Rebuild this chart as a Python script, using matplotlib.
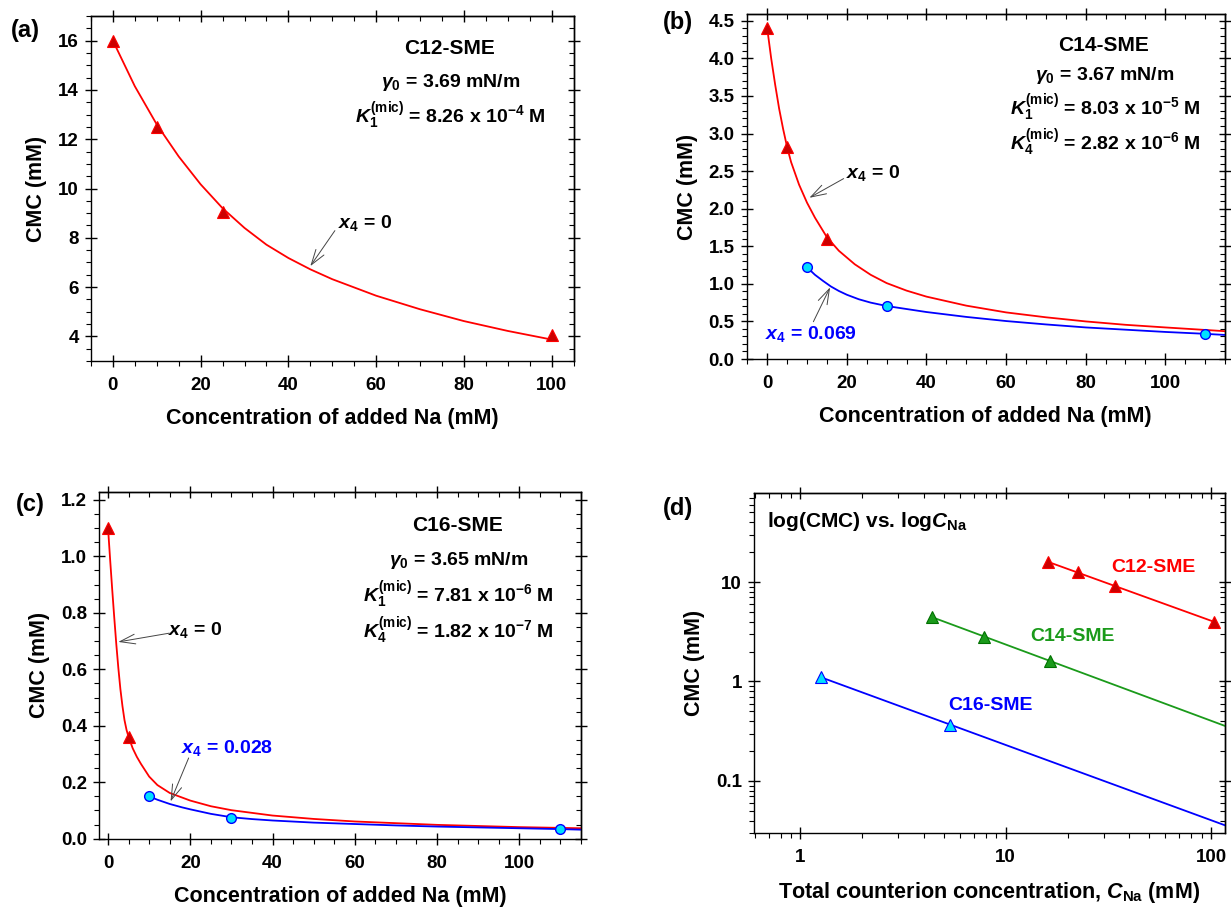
import numpy as np
import matplotlib
matplotlib.use('Agg')
import matplotlib.pyplot as plt
from matplotlib.ticker import MultipleLocator, LogLocator, NullFormatter, FixedLocator

plt.rcParams.update({
    'font.family': ['Liberation Sans', 'DejaVu Sans'],
    'font.weight': 'bold', 'axes.labelweight': 'bold',
    'mathtext.fontset': 'custom',
    'mathtext.rm': 'Liberation Sans:bold',
    'mathtext.it': 'Liberation Sans:italic:bold',
    'mathtext.bf': 'Liberation Sans:bold',
    'axes.linewidth': 1.0,
})

RED, DRED, BLUE, CYAN = '#ff0000', '#cc0000', '#0000ff', '#00e0ff'
GREEN, DGREEN = '#1a9a1a', '#007000'

# ---- (a) C12-SME ----
a_x = [0, 10, 25, 100]
a_y = [16.0, 12.5, 9.05, 4.05]
a_fit_x = [0, 5, 10, 15, 20, 25, 30, 35, 40, 45, 50, 60, 70, 80, 90, 100]
a_fit_y = [16.0, 14.15, 12.6, 11.3, 10.17, 9.2, 8.4, 7.72, 7.18, 6.72, 6.32, 5.65, 5.1, 4.62, 4.22, 3.87]

# ---- (b) C14-SME ----
b_red_x = [0, 5, 15]
b_red_y = [4.4, 2.82, 1.6]
b_red_fit_x = [0, 1, 2, 3, 4, 5, 6, 8, 10, 12, 15, 18, 22, 26, 30, 35, 40, 50, 60, 70, 80, 90, 100, 115]
b_red_fit_y = [4.4, 4.0, 3.65, 3.33, 3.06, 2.82, 2.62, 2.32, 2.08, 1.88, 1.62, 1.44, 1.26, 1.12, 1.01,
               0.91, 0.83, 0.71, 0.62, 0.555, 0.50, 0.455, 0.42, 0.37]
b_blue_x = [10, 30, 110]
b_blue_y = [1.23, 0.705, 0.33]
b_blue_fit_x = [10, 12, 14, 16, 18, 20, 23, 26, 30, 35, 40, 50, 60, 70, 80, 90, 100, 110, 115]
b_blue_fit_y = [1.22, 1.12, 1.04, 0.965, 0.905, 0.855, 0.795, 0.75, 0.705, 0.665, 0.625, 0.56,
                0.505, 0.46, 0.42, 0.39, 0.36, 0.335, 0.32]

# ---- (c) C16-SME ----
c_red_x = [0, 5]
c_red_y = [1.1, 0.36]
c_red_fit_x = [0, 0.5, 1, 1.5, 2, 2.5, 3, 3.5, 4, 4.5, 5, 6, 7, 8, 10, 12, 15, 20, 25, 30, 40, 50,
               60, 70, 80, 90, 100, 115]
c_red_fit_y = [1.10, 0.99, 0.885, 0.785, 0.69, 0.605, 0.53, 0.47, 0.42, 0.385, 0.36, 0.32, 0.29,
               0.265, 0.22, 0.19, 0.162, 0.135, 0.115, 0.101, 0.082, 0.07, 0.061, 0.055, 0.049,
               0.045, 0.041, 0.037]
c_blue_x = [10, 30, 110]
c_blue_y = [0.152, 0.0745, 0.035]
c_blue_fit_x = [10, 12, 15, 18, 20, 25, 30, 35, 40, 50, 60, 70, 80, 90, 100, 110, 115]
c_blue_fit_y = [0.150, 0.138, 0.123, 0.111, 0.104, 0.088, 0.076, 0.0695, 0.0645, 0.057, 0.052,
                0.047, 0.043, 0.040, 0.037, 0.034, 0.032]

# ---- (d) log-log ----
d12_x = [16.0, 22.4, 34.0, 103.5]
d12_y = [16.0, 12.5, 9.1, 3.98]
d12_fit_x = [16.0, 103.5]
d12_fit_y = [16.0, 3.98]
d14_x = [4.38, 7.83, 16.45]
d14_y = [4.43, 2.83, 1.61]
d14_fit_x = [4.38, 119]
d14_fit_y = [4.43, 0.353]
d16_x = [1.255, 5.38]
d16_y = [1.105, 0.364]
d16_fit_x = [1.255, 119]
d16_fit_y = [1.105, 0.0354]

fig = plt.figure(figsize=(12.31, 9.11), dpi=100)
W, H = 1231, 911
def add_ax(L, R, T, B):
    return fig.add_axes([L / W, 1 - B / H, (R - L) / W, (B - T) / H])

ax_a = add_ax(90.5, 574, 16, 361)
ax_b = add_ax(746.5, 1225, 14, 359)
ax_c = add_ax(99, 581, 492, 838.7)
ax_d = add_ax(753.7, 1225, 492.7, 833.3)

def style(ax, xloc=None, yloc=None):
    ax.tick_params(which='major', direction='inout', length=9, width=1.0, labelsize=13.5)
    ax.tick_params(axis='x', which='major', pad=7)
    ax.tick_params(axis='y', which='major', pad=4)
    ax.tick_params(which='minor', direction='out', length=3.5, width=0.8)
    if xloc:
        ax.xaxis.set_major_locator(MultipleLocator(xloc[0]))
        ax.xaxis.set_minor_locator(MultipleLocator(xloc[1]))
    if yloc:
        ax.yaxis.set_major_locator(MultipleLocator(yloc[0]))
        ax.yaxis.set_minor_locator(MultipleLocator(yloc[1]))
    sx = ax.secondary_xaxis('top')
    sy = ax.secondary_yaxis('right')
    for s, axis, src in [(sx, sx.xaxis, ax.xaxis), (sy, sy.yaxis, ax.yaxis)]:
        axis.set_major_locator(src.get_major_locator())
        axis.set_minor_locator(src.get_minor_locator())
        axis.set_major_formatter(NullFormatter())
        axis.set_minor_formatter(NullFormatter())
        s.tick_params(which='major', direction='inout', length=9, width=1.0)
        s.tick_params(which='minor', direction='in', length=3.5, width=0.8)

def arrow(ax, tip, start, color='#444444'):
    ax.annotate('', xy=tip, xytext=start,
                arrowprops=dict(arrowstyle='->,head_length=1.1,head_width=0.35', color=color,
                                lw=0.7, shrinkA=0, shrinkB=0))

XL = 'Concentration of added Na (mM)'
YL = 'CMC (mM)'
LFS = 15.5

# (a)
ax = ax_a
ax.plot(a_fit_x, a_fit_y, color=RED, lw=1.3)
ax.plot(a_x, a_y, '^', ms=8, mfc=DRED, mec=RED, mew=0.8)
ax.set_xlim(-5.1, 105.1); ax.set_ylim(3, 17)
style(ax, (20, 5), (2, 0.5))
ax.set_xlabel(XL, fontsize=LFS, labelpad=10)
ax.set_ylabel(YL, fontsize=LFS, labelpad=8)
ax.text(0.743, 0.905, 'C12-SME', transform=ax.transAxes, ha='center', va='center', fontsize=15)
ax.text(0.745, 0.806, r'$\gamma_0$ = 3.69 mN/m', transform=ax.transAxes, ha='center', va='center', fontsize=14)
ax.text(0.744, 0.708, r'$\mathit{K}_1^{\mathrm{(mic)}}$ = 8.26 x 10$^{-4}$ M', transform=ax.transAxes,
        ha='center', va='center', fontsize=14)
ax.text(57.5, 8.6, r'$\mathit{x}_4$ = 0', ha='center', va='center', fontsize=14)
arrow(ax, (45.0, 6.85), (50.6, 8.29))

# (b)
ax = ax_b
ax.plot(b_red_fit_x, b_red_fit_y, color=RED, lw=1.3)
ax.plot(b_blue_fit_x, b_blue_fit_y, color=BLUE, lw=1.3)
ax.plot(b_red_x, b_red_y, '^', ms=8, mfc=DRED, mec=RED, mew=0.8)
ax.plot(b_blue_x, b_blue_y, 'o', ms=7, mfc=CYAN, mec=BLUE, mew=1.0)
ax.set_xlim(-5.2, 115); ax.set_ylim(0, 4.59)
style(ax, (20, 5), (0.5, 0.1))
ax.yaxis.set_major_formatter(plt.FuncFormatter(lambda v, p: f'{v:.1f}'))
ax.set_xlabel(XL, fontsize=LFS, labelpad=10)
ax.set_ylabel(YL, fontsize=LFS, labelpad=8)
ax.text(0.747, 0.910, 'C14-SME', transform=ax.transAxes, ha='center', va='center', fontsize=15)
ax.text(0.749, 0.823, r'$\gamma_0$ = 3.67 mN/m', transform=ax.transAxes, ha='center', va='center', fontsize=14)
ax.text(0.749, 0.727, r'$\mathit{K}_1^{\mathrm{(mic)}}$ = 8.03 x 10$^{-5}$ M', transform=ax.transAxes,
        ha='center', va='center', fontsize=14)
ax.text(0.749, 0.625, r'$\mathit{K}_4^{\mathrm{(mic)}}$ = 2.82 x 10$^{-6}$ M', transform=ax.transAxes,
        ha='center', va='center', fontsize=14)
ax.text(26.5, 2.48, r'$\mathit{x}_4$ = 0', ha='center', va='center', fontsize=14)
arrow(ax, (10.6, 2.145), (19.2, 2.40))
ax.text(11.1, 0.33, r'$\mathit{x}_4$ = 0.069', ha='center', va='center', fontsize=14, color=BLUE)
arrow(ax, (15.8, 0.953), (11.6, 0.496))

# (c)
ax = ax_c
ax.plot(c_red_fit_x, c_red_fit_y, color=RED, lw=1.3)
ax.plot(c_blue_fit_x, c_blue_fit_y, color=BLUE, lw=1.3)
ax.plot(c_red_x, c_red_y, '^', ms=8, mfc=DRED, mec=RED, mew=0.8)
ax.plot(c_blue_x, c_blue_y, 'o', ms=7, mfc=CYAN, mec=BLUE, mew=1.0)
ax.set_xlim(-2.2, 115); ax.set_ylim(0, 1.228)
style(ax, (20, 5), (0.2, 0.05))
ax.yaxis.set_major_formatter(plt.FuncFormatter(lambda v, p: f'{v:.1f}'))
ax.set_xlabel(XL, fontsize=LFS, labelpad=10)
ax.set_ylabel(YL, fontsize=LFS, labelpad=8)
ax.text(0.743, 0.903, 'C16-SME', transform=ax.transAxes, ha='center', va='center', fontsize=15)
ax.text(0.746, 0.802, r'$\gamma_0$ = 3.65 mN/m', transform=ax.transAxes, ha='center', va='center', fontsize=14)
ax.text(0.746, 0.701, r'$\mathit{K}_1^{\mathrm{(mic)}}$ = 7.81 x 10$^{-6}$ M', transform=ax.transAxes,
        ha='center', va='center', fontsize=14)
ax.text(0.746, 0.599, r'$\mathit{K}_4^{\mathrm{(mic)}}$ = 1.82 x 10$^{-7}$ M', transform=ax.transAxes,
        ha='center', va='center', fontsize=14)
ax.text(21.2, 0.74, r'$\mathit{x}_4$ = 0', ha='center', va='center', fontsize=14)
arrow(ax, (2.5, 0.697), (14.9, 0.728))
ax.text(29.0, 0.322, r'$\mathit{x}_4$ = 0.028', ha='center', va='center', fontsize=14, color=BLUE)
arrow(ax, (15.2, 0.132), (19.6, 0.286))

# (d)
ax = ax_d
ax.set_xscale('log'); ax.set_yscale('log')
ax.plot(d12_fit_x, d12_fit_y, color=RED, lw=1.3)
ax.plot(d14_fit_x, d14_fit_y, color=GREEN, lw=1.3)
ax.plot(d16_fit_x, d16_fit_y, color=BLUE, lw=1.3)
ax.plot(d12_x, d12_y, '^', ms=8, mfc=DRED, mec=RED, mew=0.8)
ax.plot(d14_x, d14_y, '^', ms=8, mfc=GREEN, mec=DGREEN, mew=0.8)
ax.plot(d16_x, d16_y, '^', ms=8, mfc=CYAN, mec=BLUE, mew=0.8)
ax.set_xlim(0.592, 117); ax.set_ylim(0.0298, 79)
ax.xaxis.set_major_locator(FixedLocator([1, 10, 100]))
ax.yaxis.set_major_locator(FixedLocator([0.1, 1, 10]))
ax.xaxis.set_minor_locator(LogLocator(subs=np.arange(2, 10)))
ax.yaxis.set_minor_locator(LogLocator(subs=np.arange(2, 10)))
ax.set_xticklabels(['1', '10', '100']); ax.set_yticklabels(['0.1', '1', '10'])
ax.xaxis.set_minor_formatter(NullFormatter()); ax.yaxis.set_minor_formatter(NullFormatter())
style(ax)
ax.set_xlabel(r'Total counterion concentration, $\mathit{C}_{\mathrm{Na}}$ (mM)', fontsize=LFS, labelpad=10)
ax.set_ylabel(YL, fontsize=LFS, labelpad=8)
ax.text(0.028, 0.915, r'log(CMC) vs. log$\mathit{C}_{\mathrm{Na}}$', transform=ax.transAxes,
        ha='left', va='center', fontsize=15)
ax.text(0.849, 0.781, 'C12-SME', transform=ax.transAxes, ha='center', va='center', fontsize=14, color=RED)
ax.text(0.677, 0.577, 'C14-SME', transform=ax.transAxes, ha='center', va='center', fontsize=14, color=GREEN)
ax.text(0.502, 0.374, 'C16-SME', transform=ax.transAxes, ha='center', va='center', fontsize=14, color=BLUE)

for lab, x, y in [('(a)', 25, 30), ('(b)', 678, 23), ('(c)', 30, 505), ('(d)', 678, 508)]:
    fig.text(x / W, 1 - y / H, lab, ha='center', va='center', fontsize=17)

fig.savefig('out.png', dpi=100)
